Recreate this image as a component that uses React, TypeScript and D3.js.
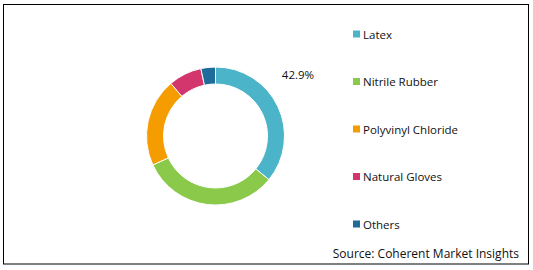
import React from "react";
import * as d3 from "d3";

const categories = ["Latex", "Nitrile Rubber", "Polyvinyl Chloride", "Natural Gloves", "Others"];
const values = [35.9, 32.2, 20.7, 7.8, 3.4];
const colors = ["#4BB4C9", "#8AC94A", "#F59D00", "#D2366C", "#1F6B99"];
const labelText = "42.9%";
const sourceText = "Source: Coherent Market Insights";

const W = 533;
const H = 270;
const FONT = "'Open Sans', sans-serif";

export default function App() {
  const cx = 215.5;
  const cy = 136;
  const outerR = 69;
  const innerR = 52;
  const pie = d3.pie<number>().sort(null).value((d) => d)(values);
  const arc = d3.arc<d3.PieArcDatum<number>>().innerRadius(innerR).outerRadius(outerR);
  const legendY = d3.scalePoint<string>().domain(categories).range([34, 224]);

  return (
    <svg width={W} height={H} style={{ position: "absolute", left: 0, top: 0, fontFamily: FONT }}>
      <rect x={0} y={0} width={W} height={H} fill="#fff" />
      <rect x={3.5} y={4.5} width={525} height={259.5} fill="none" stroke="#000" strokeWidth={1} />
      <g transform={`translate(${cx},${cy})`}>
        {pie.map((p, i) => (
          <path key={i} d={arc(p) || ""} fill={colors[i]} stroke="#fff" strokeWidth={1} />
        ))}
      </g>
      <text x={298} y={74} fontSize={11.5} textAnchor="middle" dominantBaseline="central" fill="#111">
        {labelText}
      </text>
      {categories.map((c, i) => (
        <g key={c} transform={`translate(353,${legendY(c)})`}>
          <rect x={0} y={-3.5} width={7} height={7} fill={colors[i]} />
          <text x={10} y={0} fontSize={11.5} dominantBaseline="central" fill="#111">
            {c}
          </text>
        </g>
      ))}
      <text x={519} y={253} fontSize={12} textAnchor="end" dominantBaseline="central" fill="#111">
        {sourceText}
      </text>
    </svg>
  );
}
